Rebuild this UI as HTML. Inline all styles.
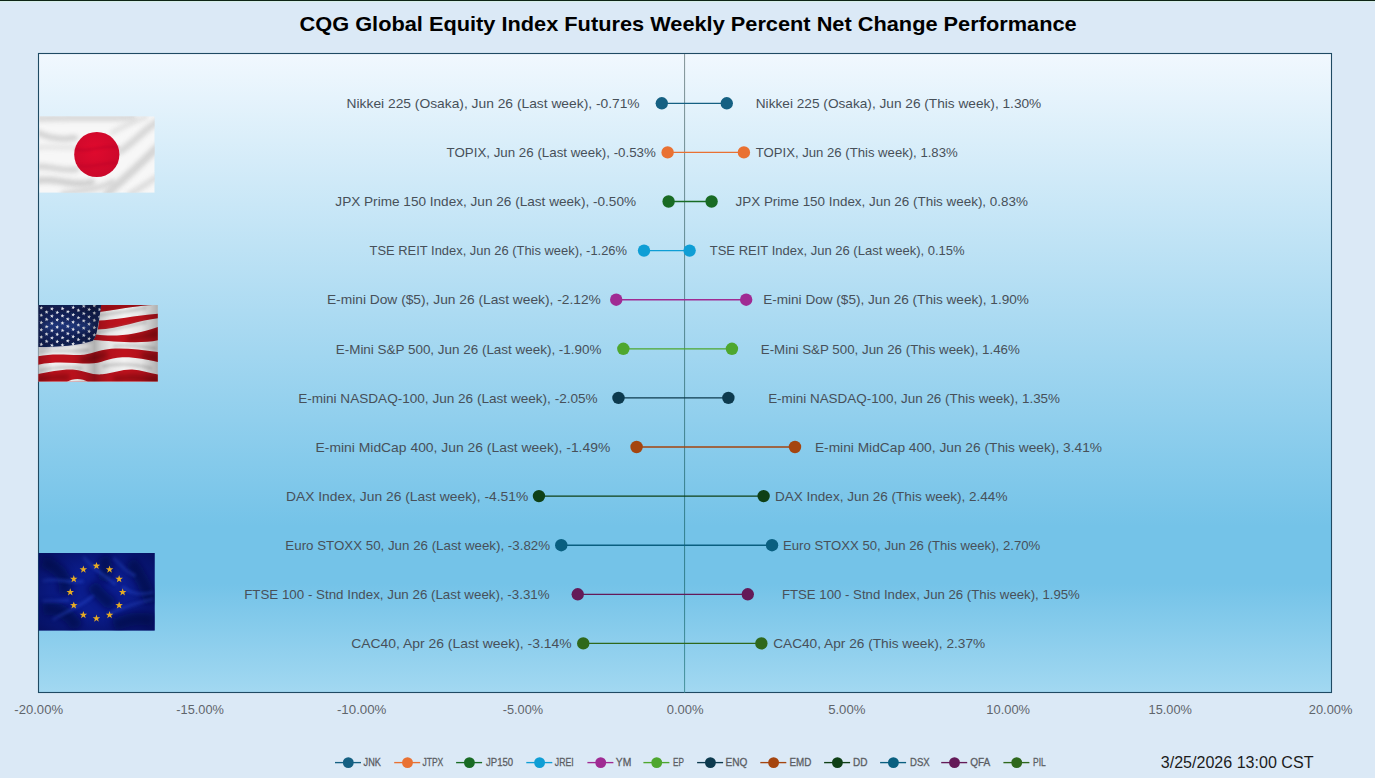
<!DOCTYPE html>
<html lang="en"><head><meta charset="utf-8"><title>CQG Global Equity Index Futures Weekly Percent Net Change Performance</title>
<style>
html,body{margin:0;padding:0;background:#dbe9f6;}
body{width:1375px;height:778px;overflow:hidden;}
svg{display:block;}
text{font-family:"Liberation Sans",sans-serif;}
.dl{font-size:13.33px;fill:#475059;}
.ax{font-size:12px;fill:#5f656c;}
.lg{font-size:11.1px;fill:#5a5d63;stroke:#5a5d63;stroke-width:0.3px;}
.ttl{font-size:20.4px;font-weight:bold;fill:#000;}
.dt{font-size:16px;fill:#1c1c1c;}
</style></head><body>
<svg width="1375" height="778" viewBox="0 0 1375 778">
<defs>
<linearGradient id="pg" x1="0" y1="0" x2="0" y2="1">
<stop offset="0" stop-color="#f1f8fe"/><stop offset="0.74" stop-color="#74c3e8"/><stop offset="0.83" stop-color="#74c3e8"/><stop offset="1" stop-color="#a2d8f1"/>
</linearGradient>
<linearGradient id="zl" x1="0" y1="0" x2="0" y2="1">
<stop offset="0" stop-color="#8a9a9e"/><stop offset="0.74" stop-color="#378494"/><stop offset="0.83" stop-color="#378494"/><stop offset="1" stop-color="#4f98a4"/>
</linearGradient>
</defs>
<rect x="0" y="0" width="1375" height="778" fill="#dbe9f6"/>
<rect x="0" y="0" width="1375" height="1" fill="#0e2416"/><rect x="0" y="1" width="1375" height="1" fill="#d7efe9"/>
<rect x="38.5" y="53.5" width="1293" height="639" fill="url(#pg)" stroke="#1f4a63" stroke-width="1.1"/>
<defs>
<filter id="b2" filterUnits="userSpaceOnUse" x="-200" y="-200" width="1800" height="1300"><feGaussianBlur stdDeviation="2.2"/></filter>
<filter id="b1" filterUnits="userSpaceOnUse" x="-200" y="-200" width="1800" height="1300"><feGaussianBlur stdDeviation="1.2"/></filter>
<filter id="bz" filterUnits="userSpaceOnUse" x="-200" y="-200" width="1800" height="1300"><feGaussianBlur stdDeviation="14"/></filter>
<filter id="bz3" filterUnits="userSpaceOnUse" x="-200" y="-200" width="1800" height="1300"><feGaussianBlur stdDeviation="34"/></filter>
<filter id="bz2" filterUnits="userSpaceOnUse" x="-200" y="-200" width="1800" height="1300"><feGaussianBlur stdDeviation="22"/></filter>
<clipPath id="cj"><rect x="39.3" y="116.3" width="115.4" height="76.5"/></clipPath>
<clipPath id="cu"><rect x="20" y="45" width="1083" height="695"/></clipPath>
<clipPath id="ce"><rect x="22" y="45" width="1053" height="703"/></clipPath>
<linearGradient id="ush" x1="0" y1="0" x2="1" y2="0">
<stop offset="0" stop-color="#000" stop-opacity="0.18"/><stop offset="0.12" stop-color="#000" stop-opacity="0"/>
<stop offset="0.28" stop-color="#000" stop-opacity="0.02"/><stop offset="0.4" stop-color="#000" stop-opacity="0.14"/><stop offset="0.47" stop-color="#000" stop-opacity="0.27"/>
<stop offset="0.53" stop-color="#000" stop-opacity="0.14"/><stop offset="0.6" stop-color="#000" stop-opacity="0.05"/><stop offset="0.72" stop-color="#000" stop-opacity="0"/>
<stop offset="0.86" stop-color="#000" stop-opacity="0.06"/><stop offset="1" stop-color="#000" stop-opacity="0.28"/>
</linearGradient>
<radialGradient id="ev" cx="0.5" cy="0.5" r="0.75"><stop offset="0.35" stop-color="#02063c" stop-opacity="0"/><stop offset="1" stop-color="#02063c" stop-opacity="0.62"/></radialGradient>
<radialGradient id="jr" cx="0.45" cy="0.4" r="0.7"><stop offset="0" stop-color="#e00a2e"/><stop offset="1" stop-color="#c8082a"/></radialGradient>
</defs>
<g clip-path="url(#cj)">
<rect x="39.3" y="116.3" width="115.4" height="76.5" fill="#f7f7f7"/>
<path d="M39.3,118.5 C68.6,117.2 100.7,119.1 132.8,117.2 " fill="none" stroke="#cfcfcf" stroke-width="7" opacity="0.72" filter="url(#b2)" stroke-linecap="round"/>
<path d="M37.7,132.6 C49.3,138.4 62.1,139.7 75.0,137.8 " fill="none" stroke="#c6c6c6" stroke-width="6" opacity="0.72" filter="url(#b2)" stroke-linecap="round"/>
<path d="M37.7,147.4 C49.3,146.1 62.1,148.1 73.7,147.4 " fill="none" stroke="#dcdcdc" stroke-width="5" opacity="0.64" filter="url(#b2)" stroke-linecap="round"/>
<path d="M37.7,166.7 C49.3,165.4 62.1,171.8 76.3,169.3 " fill="none" stroke="#c9c9c9" stroke-width="6" opacity="0.72" filter="url(#b2)" stroke-linecap="round"/>
<path d="M37.7,180.8 C55.7,177.0 72.4,187.3 91.7,182.1 " fill="none" stroke="#c4c4c4" stroke-width="7" opacity="0.72" filter="url(#b2)" stroke-linecap="round"/>
<path d="M63.4,193.7 C84.0,189.8 96.8,189.8 112.3,182.1 " fill="none" stroke="#cdcdcd" stroke-width="6" opacity="0.72" filter="url(#b2)" stroke-linecap="round"/>
<path d="M107.1,193.7 C126.4,177.0 139.3,165.4 157.2,147.4 " fill="none" stroke="#c8c8c8" stroke-width="8" opacity="0.72" filter="url(#b2)" stroke-linecap="round"/>
<path d="M120.0,151.3 C132.8,143.6 143.1,130.7 157.2,121.7 " fill="none" stroke="#cccccc" stroke-width="7" opacity="0.72" filter="url(#b2)" stroke-linecap="round"/>
<path d="M112.3,132.6 C122.5,126.9 132.8,121.7 145.7,117.2 " fill="none" stroke="#d6d6d6" stroke-width="5" opacity="0.64" filter="url(#b2)" stroke-linecap="round"/>
<path d="M130.3,193.7 C140.5,188.5 148.3,182.1 157.2,177.0 " fill="none" stroke="#cfcfcf" stroke-width="6" opacity="0.64" filter="url(#b2)" stroke-linecap="round"/>
<circle cx="96.8" cy="154.5" r="22.6" fill="url(#jr)"/>
<path d="M75.0,148.7 C87.8,153.8 102.0,143.6 118.7,147.4 " fill="none" stroke="#b40626" stroke-width="3" opacity="0.35" filter="url(#b1)"/>
<path d="M78.8,165.4 C91.7,169.3 104.6,161.6 117.4,162.8 " fill="none" stroke="#b40626" stroke-width="3" opacity="0.3" filter="url(#b1)"/>
</g>
<g transform="translate(36,300) scale(0.110522)"><g clip-path="url(#cu)">
<rect x="20" y="45" width="1083" height="695" fill="#f3f3f3"/>
<path d="M585,45 L1060,45 C950,50 800,75 575,108 Z" fill="#bf121d"/>
<path d="M570,185 C700,185 900,140 1103,125 L1103,165 C950,180 750,260 560,268 Z" fill="#bf121d"/>
<path d="M545,312 C700,335 900,320 1103,245 L1103,365 C950,400 700,375 520,362 Z" fill="#bf121d"/>
<path d="M20,510 C150,480 300,500 400,498 C500,495 550,455 680,442 C800,432 950,450 1103,470 L1103,560 C1000,540 900,515 780,518 C650,522 600,575 480,575 C350,575 200,548 20,585 Z" fill="#bf121d"/>
<path d="M20,670 C120,650 250,622 350,630 C450,640 500,680 600,672 C700,660 780,625 870,628 C950,632 1030,660 1103,675 L1103,740 L20,740 Z" fill="#bf121d"/>
<clipPath id="cr"><path d="M585,45 L1060,45 C950,50 800,75 575,108 Z"/><path d="M570,185 C700,185 900,140 1103,125 L1103,165 C950,180 750,260 560,268 Z"/><path d="M545,312 C700,335 900,320 1103,245 L1103,365 C950,400 700,375 520,362 Z"/><path d="M20,510 C150,480 300,500 400,498 C500,495 550,455 680,442 C800,432 950,450 1103,470 L1103,560 C1000,540 900,515 780,518 C650,522 600,575 480,575 C350,575 200,548 20,585 Z"/><path d="M20,670 C120,650 250,622 350,630 C450,640 500,680 600,672 C700,660 780,625 870,628 C950,632 1030,660 1103,675 L1103,740 L20,740 Z"/></clipPath><g clip-path="url(#cr)">
<path d="M600,75 C750,62 900,50 1050,46" fill="none" stroke="#4a0006" stroke-width="50" opacity="0.4" filter="url(#bz2)"/>
<path d="M820,350 C920,345 1030,320 1103,300" fill="none" stroke="#4a0006" stroke-width="50" opacity="0.4" filter="url(#bz2)"/>
<path d="M400,540 C480,545 560,520 640,490" fill="none" stroke="#4a0006" stroke-width="50" opacity="0.4" filter="url(#bz2)"/>
<path d="M700,715 C850,690 980,700 1103,725" fill="none" stroke="#4a0006" stroke-width="50" opacity="0.4" filter="url(#bz2)"/>
<path d="M20,720 C100,700 200,690 300,700" fill="none" stroke="#4a0006" stroke-width="50" opacity="0.4" filter="url(#bz2)"/>
<path d="M950,500 C1000,505 1060,520 1103,530" fill="none" stroke="#4a0006" stroke-width="50" opacity="0.4" filter="url(#bz2)"/>
</g>
<path d="M280,740 C330,705 420,705 470,740 Z" fill="#f0f0f0"/>
<path d="M560,140 C700,120 850,100 1000,70" fill="none" stroke="#8c8c8c" stroke-width="26" opacity="0.38" filter="url(#bz)"/>
<path d="M560,290 C700,270 850,230 1000,200" fill="none" stroke="#8c8c8c" stroke-width="26" opacity="0.38" filter="url(#bz)"/>
<path d="M30,470 C200,450 350,470 480,455" fill="none" stroke="#8c8c8c" stroke-width="26" opacity="0.38" filter="url(#bz)"/>
<path d="M600,600 C750,570 900,580 1050,620" fill="none" stroke="#8c8c8c" stroke-width="26" opacity="0.38" filter="url(#bz)"/>
<path d="M30,640 C150,610 300,600 420,620" fill="none" stroke="#8c8c8c" stroke-width="26" opacity="0.38" filter="url(#bz)"/>
<path d="M700,420 C850,400 950,420 1090,440" fill="none" stroke="#8c8c8c" stroke-width="26" opacity="0.38" filter="url(#bz)"/>
<path d="M20,45 L590,45 C580,120 570,200 550,290 C540,330 530,350 515,368 C400,410 200,425 20,425 Z" fill="#15245c"/>
<path d="M60,250 C200,200 350,260 520,230" fill="none" stroke="#2a4a9a" stroke-width="70" opacity="0.55" filter="url(#bz2)"/>
<path d="M40,80 C200,60 350,120 560,60" fill="none" stroke="#0a1238" stroke-width="50" opacity="0.6" filter="url(#bz2)"/>
<path d="M40,400 C200,390 350,370 500,340" fill="none" stroke="#0a1238" stroke-width="40" opacity="0.6" filter="url(#bz2)"/>
<clipPath id="cc"><path d="M20,45 L590,45 C580,120 570,200 550,290 C540,330 530,350 515,368 C400,410 200,425 20,425 Z"/></clipPath><g clip-path="url(#cc)" fill="#e4e6ee">
<polygon points="51.3,53.2 53.8,66.4 66.8,69.3 55.1,75.7 56.3,89.0 46.6,79.8 34.3,85.1 40.1,73.0 31.2,63.0 44.5,64.7"/>
<polygon points="147.3,60.8 149.8,74.0 162.8,76.9 151.1,83.3 152.3,96.6 142.6,87.4 130.3,92.7 136.1,80.6 127.2,70.6 140.5,72.3"/>
<polygon points="243.3,58.8 245.8,71.9 258.8,74.8 247.1,81.2 248.3,94.5 238.6,85.3 226.3,90.7 232.1,78.6 223.2,68.5 236.5,70.3"/>
<polygon points="339.3,48.5 341.8,61.7 354.8,64.6 343.1,71.0 344.3,84.3 334.6,75.1 322.3,80.4 328.1,68.3 319.2,58.3 332.5,60.0"/>
<polygon points="435.3,37.4 437.8,50.5 450.8,53.5 439.1,59.9 440.3,73.2 430.6,64.0 418.3,69.3 424.1,57.2 415.2,47.2 428.5,48.9"/>
<polygon points="531.3,33.3 533.8,46.5 546.8,49.4 535.1,55.8 536.3,69.1 526.6,59.9 514.3,65.3 520.1,53.2 511.2,43.1 524.5,44.9"/>
<polygon points="99.3,91.0 101.8,104.2 114.8,107.1 103.1,113.5 104.3,126.8 94.6,117.6 82.3,122.9 88.1,110.8 79.2,100.8 92.5,102.5"/>
<polygon points="195.3,94.1 197.8,107.2 210.8,110.1 199.1,116.5 200.3,129.9 190.6,120.7 178.3,126.0 184.1,113.9 175.2,103.9 188.5,105.6"/>
<polygon points="291.3,87.3 293.8,100.4 306.8,103.4 295.1,109.8 296.3,123.1 286.6,113.9 274.3,119.2 280.1,107.1 271.2,97.1 284.5,98.8"/>
<polygon points="387.3,75.5 389.8,88.7 402.8,91.6 391.1,98.0 392.3,111.3 382.6,102.1 370.3,107.4 376.1,95.3 367.2,85.3 380.5,87.0"/>
<polygon points="483.3,67.1 485.8,80.3 498.8,83.2 487.1,89.6 488.3,102.9 478.6,93.7 466.3,99.0 472.1,87.0 463.2,76.9 476.5,78.7"/>
<polygon points="579.3,68.2 581.8,81.3 594.8,84.2 583.1,90.6 584.3,104.0 574.6,94.8 562.3,100.1 568.1,88.0 559.2,78.0 572.5,79.7"/>
<polygon points="51.3,119.2 53.8,132.4 66.8,135.3 55.1,141.7 56.3,155.0 46.6,145.8 34.3,151.1 40.1,139.0 31.2,129.0 44.5,130.7"/>
<polygon points="147.3,126.8 149.8,140.0 162.8,142.9 151.1,149.3 152.3,162.6 142.6,153.4 130.3,158.7 136.1,146.6 127.2,136.6 140.5,138.3"/>
<polygon points="243.3,124.8 245.8,137.9 258.8,140.8 247.1,147.2 248.3,160.5 238.6,151.3 226.3,156.7 232.1,144.6 223.2,134.5 236.5,136.3"/>
<polygon points="339.3,114.5 341.8,127.7 354.8,130.6 343.1,137.0 344.3,150.3 334.6,141.1 322.3,146.4 328.1,134.3 319.2,124.3 332.5,126.0"/>
<polygon points="435.3,103.4 437.8,116.5 450.8,119.5 439.1,125.9 440.3,139.2 430.6,130.0 418.3,135.3 424.1,123.2 415.2,113.2 428.5,114.9"/>
<polygon points="531.3,99.3 533.8,112.5 546.8,115.4 535.1,121.8 536.3,135.1 526.6,125.9 514.3,131.3 520.1,119.2 511.2,109.1 524.5,110.9"/>
<polygon points="99.3,157.0 101.8,170.2 114.8,173.1 103.1,179.5 104.3,192.8 94.6,183.6 82.3,188.9 88.1,176.8 79.2,166.8 92.5,168.5"/>
<polygon points="195.3,160.1 197.8,173.2 210.8,176.1 199.1,182.5 200.3,195.9 190.6,186.7 178.3,192.0 184.1,179.9 175.2,169.9 188.5,171.6"/>
<polygon points="291.3,153.3 293.8,166.4 306.8,169.4 295.1,175.8 296.3,189.1 286.6,179.9 274.3,185.2 280.1,173.1 271.2,163.1 284.5,164.8"/>
<polygon points="387.3,141.5 389.8,154.7 402.8,157.6 391.1,164.0 392.3,177.3 382.6,168.1 370.3,173.4 376.1,161.3 367.2,151.3 380.5,153.0"/>
<polygon points="483.3,133.1 485.8,146.3 498.8,149.2 487.1,155.6 488.3,168.9 478.6,159.7 466.3,165.0 472.1,153.0 463.2,142.9 476.5,144.7"/>
<polygon points="579.3,134.2 581.8,147.3 594.8,150.2 583.1,156.6 584.3,170.0 574.6,160.8 562.3,166.1 568.1,154.0 559.2,144.0 572.5,145.7"/>
<polygon points="51.3,185.2 53.8,198.4 66.8,201.3 55.1,207.7 56.3,221.0 46.6,211.8 34.3,217.1 40.1,205.0 31.2,195.0 44.5,196.7"/>
<polygon points="147.3,192.8 149.8,206.0 162.8,208.9 151.1,215.3 152.3,228.6 142.6,219.4 130.3,224.7 136.1,212.6 127.2,202.6 140.5,204.3"/>
<polygon points="243.3,190.8 245.8,203.9 258.8,206.8 247.1,213.2 248.3,226.5 238.6,217.3 226.3,222.7 232.1,210.6 223.2,200.5 236.5,202.3"/>
<polygon points="339.3,180.5 341.8,193.7 354.8,196.6 343.1,203.0 344.3,216.3 334.6,207.1 322.3,212.4 328.1,200.3 319.2,190.3 332.5,192.0"/>
<polygon points="435.3,169.4 437.8,182.5 450.8,185.5 439.1,191.9 440.3,205.2 430.6,196.0 418.3,201.3 424.1,189.2 415.2,179.2 428.5,180.9"/>
<polygon points="531.3,165.3 533.8,178.5 546.8,181.4 535.1,187.8 536.3,201.1 526.6,191.9 514.3,197.3 520.1,185.2 511.2,175.1 524.5,176.9"/>
<polygon points="99.3,223.0 101.8,236.2 114.8,239.1 103.1,245.5 104.3,258.8 94.6,249.6 82.3,254.9 88.1,242.8 79.2,232.8 92.5,234.5"/>
<polygon points="195.3,226.1 197.8,239.2 210.8,242.1 199.1,248.5 200.3,261.9 190.6,252.7 178.3,258.0 184.1,245.9 175.2,235.9 188.5,237.6"/>
<polygon points="291.3,219.3 293.8,232.4 306.8,235.4 295.1,241.8 296.3,255.1 286.6,245.9 274.3,251.2 280.1,239.1 271.2,229.1 284.5,230.8"/>
<polygon points="387.3,207.5 389.8,220.7 402.8,223.6 391.1,230.0 392.3,243.3 382.6,234.1 370.3,239.4 376.1,227.3 367.2,217.3 380.5,219.0"/>
<polygon points="483.3,199.1 485.8,212.3 498.8,215.2 487.1,221.6 488.3,234.9 478.6,225.7 466.3,231.0 472.1,219.0 463.2,208.9 476.5,210.7"/>
<polygon points="579.3,200.2 581.8,213.3 594.8,216.2 583.1,222.6 584.3,236.0 574.6,226.8 562.3,232.1 568.1,220.0 559.2,210.0 572.5,211.7"/>
<polygon points="51.3,251.2 53.8,264.4 66.8,267.3 55.1,273.7 56.3,287.0 46.6,277.8 34.3,283.1 40.1,271.0 31.2,261.0 44.5,262.7"/>
<polygon points="147.3,258.8 149.8,272.0 162.8,274.9 151.1,281.3 152.3,294.6 142.6,285.4 130.3,290.7 136.1,278.6 127.2,268.6 140.5,270.3"/>
<polygon points="243.3,256.8 245.8,269.9 258.8,272.8 247.1,279.2 248.3,292.5 238.6,283.3 226.3,288.7 232.1,276.6 223.2,266.5 236.5,268.3"/>
<polygon points="339.3,246.5 341.8,259.7 354.8,262.6 343.1,269.0 344.3,282.3 334.6,273.1 322.3,278.4 328.1,266.3 319.2,256.3 332.5,258.0"/>
<polygon points="435.3,235.4 437.8,248.5 450.8,251.5 439.1,257.9 440.3,271.2 430.6,262.0 418.3,267.3 424.1,255.2 415.2,245.2 428.5,246.9"/>
<polygon points="531.3,231.3 533.8,244.5 546.8,247.4 535.1,253.8 536.3,267.1 526.6,257.9 514.3,263.3 520.1,251.2 511.2,241.1 524.5,242.9"/>
<polygon points="99.3,289.0 101.8,302.2 114.8,305.1 103.1,311.5 104.3,324.8 94.6,315.6 82.3,320.9 88.1,308.8 79.2,298.8 92.5,300.5"/>
<polygon points="195.3,292.1 197.8,305.2 210.8,308.1 199.1,314.5 200.3,327.9 190.6,318.7 178.3,324.0 184.1,311.9 175.2,301.9 188.5,303.6"/>
<polygon points="291.3,285.3 293.8,298.4 306.8,301.4 295.1,307.8 296.3,321.1 286.6,311.9 274.3,317.2 280.1,305.1 271.2,295.1 284.5,296.8"/>
<polygon points="387.3,273.5 389.8,286.7 402.8,289.6 391.1,296.0 392.3,309.3 382.6,300.1 370.3,305.4 376.1,293.3 367.2,283.3 380.5,285.0"/>
<polygon points="483.3,265.1 485.8,278.3 498.8,281.2 487.1,287.6 488.3,300.9 478.6,291.7 466.3,297.0 472.1,285.0 463.2,274.9 476.5,276.7"/>
<polygon points="579.3,266.2 581.8,279.3 594.8,282.2 583.1,288.6 584.3,302.0 574.6,292.8 562.3,298.1 568.1,286.0 559.2,276.0 572.5,277.7"/>
<polygon points="51.3,317.2 53.8,330.4 66.8,333.3 55.1,339.7 56.3,353.0 46.6,343.8 34.3,349.1 40.1,337.0 31.2,327.0 44.5,328.7"/>
<polygon points="147.3,324.8 149.8,338.0 162.8,340.9 151.1,347.3 152.3,360.6 142.6,351.4 130.3,356.7 136.1,344.6 127.2,334.6 140.5,336.3"/>
<polygon points="243.3,322.8 245.8,335.9 258.8,338.8 247.1,345.2 248.3,358.5 238.6,349.3 226.3,354.7 232.1,342.6 223.2,332.5 236.5,334.3"/>
<polygon points="339.3,312.5 341.8,325.7 354.8,328.6 343.1,335.0 344.3,348.3 334.6,339.1 322.3,344.4 328.1,332.3 319.2,322.3 332.5,324.0"/>
<polygon points="435.3,301.4 437.8,314.5 450.8,317.5 439.1,323.9 440.3,337.2 430.6,328.0 418.3,333.3 424.1,321.2 415.2,311.2 428.5,312.9"/>
<polygon points="531.3,297.3 533.8,310.5 546.8,313.4 535.1,319.8 536.3,333.1 526.6,323.9 514.3,329.3 520.1,317.2 511.2,307.1 524.5,308.9"/>
<polygon points="99.3,355.0 101.8,368.2 114.8,371.1 103.1,377.5 104.3,390.8 94.6,381.6 82.3,386.9 88.1,374.8 79.2,364.8 92.5,366.5"/>
<polygon points="195.3,358.1 197.8,371.2 210.8,374.1 199.1,380.5 200.3,393.9 190.6,384.7 178.3,390.0 184.1,377.9 175.2,367.9 188.5,369.6"/>
<polygon points="291.3,351.3 293.8,364.4 306.8,367.4 295.1,373.8 296.3,387.1 286.6,377.9 274.3,383.2 280.1,371.1 271.2,361.1 284.5,362.8"/>
<polygon points="387.3,339.5 389.8,352.7 402.8,355.6 391.1,362.0 392.3,375.3 382.6,366.1 370.3,371.4 376.1,359.3 367.2,349.3 380.5,351.0"/>
<polygon points="483.3,331.1 485.8,344.3 498.8,347.2 487.1,353.6 488.3,366.9 478.6,357.7 466.3,363.0 472.1,351.0 463.2,340.9 476.5,342.7"/>
<polygon points="579.3,332.2 581.8,345.3 594.8,348.2 583.1,354.6 584.3,368.0 574.6,358.8 562.3,364.1 568.1,352.0 559.2,342.0 572.5,343.7"/>
<polygon points="51.3,383.2 53.8,396.4 66.8,399.3 55.1,405.7 56.3,419.0 46.6,409.8 34.3,415.1 40.1,403.0 31.2,393.0 44.5,394.7"/>
<polygon points="147.3,390.8 149.8,404.0 162.8,406.9 151.1,413.3 152.3,426.6 142.6,417.4 130.3,422.7 136.1,410.6 127.2,400.6 140.5,402.3"/>
<polygon points="243.3,388.8 245.8,401.9 258.8,404.8 247.1,411.2 248.3,424.5 238.6,415.3 226.3,420.7 232.1,408.6 223.2,398.5 236.5,400.3"/>
<polygon points="339.3,378.5 341.8,391.7 354.8,394.6 343.1,401.0 344.3,414.3 334.6,405.1 322.3,410.4 328.1,398.3 319.2,388.3 332.5,390.0"/>
<polygon points="435.3,367.4 437.8,380.5 450.8,383.5 439.1,389.9 440.3,403.2 430.6,394.0 418.3,399.3 424.1,387.2 415.2,377.2 428.5,378.9"/>
<polygon points="531.3,363.3 533.8,376.5 546.8,379.4 535.1,385.8 536.3,399.1 526.6,389.9 514.3,395.3 520.1,383.2 511.2,373.1 524.5,374.9"/>
</g>
<rect x="20" y="45" width="1083" height="695" fill="url(#ush)"/>
</g></g>
<g transform="translate(36,548) scale(0.110522)"><g clip-path="url(#ce)">
<rect x="22" y="45" width="1053" height="703" fill="#0b1d8e"/>
<path d="M60,120 C200,180 300,260 250,420" fill="none" stroke="#030848" stroke-width="120" opacity="0.7" filter="url(#bz3)"/>
<path d="M850,120 C950,250 1000,350 1040,500" fill="none" stroke="#030848" stroke-width="120" opacity="0.7" filter="url(#bz3)"/>
<path d="M700,700 C850,640 950,620 1060,660" fill="none" stroke="#030848" stroke-width="120" opacity="0.7" filter="url(#bz3)"/>
<path d="M500,330 C560,400 620,470 700,520" fill="none" stroke="#030848" stroke-width="120" opacity="0.7" filter="url(#bz3)"/>
<path d="M60,560 C200,520 300,600 380,720" fill="none" stroke="#030848" stroke-width="120" opacity="0.7" filter="url(#bz3)"/>
<path d="M600,80 C650,160 640,220 600,300" fill="none" stroke="#030848" stroke-width="120" opacity="0.7" filter="url(#bz3)"/>
<path d="M430,80 C520,200 640,260 720,330" fill="none" stroke="#2242c0" stroke-width="26" opacity="0.6" filter="url(#bz)"/>
<path d="M60,300 C200,260 300,330 430,300" fill="none" stroke="#2242c0" stroke-width="26" opacity="0.6" filter="url(#bz)"/>
<path d="M150,650 C300,560 420,520 520,430" fill="none" stroke="#2242c0" stroke-width="26" opacity="0.6" filter="url(#bz)"/>
<path d="M780,350 C860,420 950,430 1060,400" fill="none" stroke="#2242c0" stroke-width="26" opacity="0.6" filter="url(#bz)"/>
<path d="M650,600 C780,540 900,500 1060,460" fill="none" stroke="#2242c0" stroke-width="26" opacity="0.6" filter="url(#bz)"/>
<path d="M60,480 C150,470 230,490 300,470" fill="none" stroke="#2242c0" stroke-width="26" opacity="0.6" filter="url(#bz)"/>
<path d="M700,90 C780,150 800,220 900,250" fill="none" stroke="#2242c0" stroke-width="26" opacity="0.6" filter="url(#bz)"/>
<rect x="22" y="45" width="1053" height="703" fill="url(#ev)"/>
<polygon points="547.0,126.0 555.5,150.3 581.2,150.9 560.8,166.5 568.2,191.1 547.0,176.5 525.8,191.1 533.2,166.5 512.8,150.9 538.5,150.3" fill="#e6ab24"/>
<polygon points="665.5,157.9 674.0,182.2 699.7,182.8 679.3,198.4 686.7,223.0 665.5,208.4 644.3,223.0 651.7,198.4 631.3,182.8 657.0,182.2" fill="#e6ab24"/>
<polygon points="752.2,245.0 760.8,269.3 786.5,269.9 766.0,285.5 773.4,310.1 752.2,295.5 731.1,310.1 738.5,285.5 718.0,269.9 743.7,269.3" fill="#e6ab24"/>
<polygon points="784.0,364.0 792.5,388.3 818.2,388.9 797.8,404.5 805.2,429.1 784.0,414.5 762.8,429.1 770.2,404.5 749.8,388.9 775.5,388.3" fill="#e6ab24"/>
<polygon points="752.2,483.0 760.8,507.3 786.5,507.9 766.0,523.5 773.4,548.1 752.2,533.5 731.1,548.1 738.5,523.5 718.0,507.9 743.7,507.3" fill="#e6ab24"/>
<polygon points="665.5,570.1 674.0,594.4 699.7,595.0 679.3,610.6 686.7,635.2 665.5,620.6 644.3,635.2 651.7,610.6 631.3,595.0 657.0,594.4" fill="#e6ab24"/>
<polygon points="547.0,602.0 555.5,626.3 581.2,626.9 560.8,642.5 568.2,667.1 547.0,652.5 525.8,667.1 533.2,642.5 512.8,626.9 538.5,626.3" fill="#e6ab24"/>
<polygon points="428.5,570.1 437.0,594.4 462.7,595.0 442.3,610.6 449.7,635.2 428.5,620.6 407.3,635.2 414.7,610.6 394.3,595.0 420.0,594.4" fill="#e6ab24"/>
<polygon points="341.8,483.0 350.3,507.3 376.0,507.9 355.5,523.5 362.9,548.1 341.8,533.5 320.6,548.1 328.0,523.5 307.5,507.9 333.2,507.3" fill="#e6ab24"/>
<polygon points="310.0,364.0 318.5,388.3 344.2,388.9 323.8,404.5 331.2,429.1 310.0,414.5 288.8,429.1 296.2,404.5 275.8,388.9 301.5,388.3" fill="#e6ab24"/>
<polygon points="341.8,245.0 350.3,269.3 376.0,269.9 355.5,285.5 362.9,310.1 341.8,295.5 320.6,310.1 328.0,285.5 307.5,269.9 333.2,269.3" fill="#e6ab24"/>
<polygon points="428.5,157.9 437.0,182.2 462.7,182.8 442.3,198.4 449.7,223.0 428.5,208.4 407.3,223.0 414.7,198.4 394.3,182.8 420.0,182.2" fill="#e6ab24"/>
</g></g>
<rect x="684" y="54" width="1.1" height="638.5" fill="url(#zl)"/>
<text class="ttl" x="299.55" y="30.7" textLength="777.10" lengthAdjust="spacingAndGlyphs">CQG Global Equity Index Futures Weekly Percent Net Change Performance</text>
<g><line x1="661.80" y1="103.30" x2="726.77" y2="103.30" stroke="#156082" stroke-width="1.35"/><circle cx="661.80" cy="103.30" r="6.2" fill="#156082"/><circle cx="726.77" cy="103.30" r="6.2" fill="#156082"/>
<text class="dl" x="346.55" y="108.05" textLength="293.10" lengthAdjust="spacingAndGlyphs">Nikkei 225 (Osaka), Jun 26 (Last week), -0.71%</text>
<text class="dl" x="755.75" y="108.05" textLength="285.50" lengthAdjust="spacingAndGlyphs">Nikkei 225 (Osaka), Jun 26 (This week), 1.30%</text></g>
<g><line x1="667.62" y1="152.40" x2="743.90" y2="152.40" stroke="#E97132" stroke-width="1.35"/><circle cx="667.62" cy="152.40" r="6.2" fill="#E97132"/><circle cx="743.90" cy="152.40" r="6.2" fill="#E97132"/>
<text class="dl" x="446.55" y="157.15" textLength="209.30" lengthAdjust="spacingAndGlyphs">TOPIX, Jun 26 (Last week), -0.53%</text>
<text class="dl" x="755.75" y="157.15" textLength="201.90" lengthAdjust="spacingAndGlyphs">TOPIX, Jun 26 (This week), 1.83%</text></g>
<g><line x1="668.59" y1="201.50" x2="711.58" y2="201.50" stroke="#196B24" stroke-width="1.35"/><circle cx="668.59" cy="201.50" r="6.2" fill="#196B24"/><circle cx="711.58" cy="201.50" r="6.2" fill="#196B24"/>
<text class="dl" x="335.35" y="206.25" textLength="300.70" lengthAdjust="spacingAndGlyphs">JPX Prime 150 Index, Jun 26 (Last week), -0.50%</text>
<text class="dl" x="735.55" y="206.25" textLength="292.30" lengthAdjust="spacingAndGlyphs">JPX Prime 150 Index, Jun 26 (This week), 0.83%</text></g>
<g><line x1="644.02" y1="250.60" x2="689.60" y2="250.60" stroke="#0F9ED5" stroke-width="1.35"/><circle cx="644.02" cy="250.60" r="6.2" fill="#0F9ED5"/><circle cx="689.60" cy="250.60" r="6.2" fill="#0F9ED5"/>
<text class="dl" x="369.55" y="255.35" textLength="257.50" lengthAdjust="spacingAndGlyphs">TSE REIT Index, Jun 26 (This week), -1.26%</text>
<text class="dl" x="709.75" y="255.35" textLength="254.90" lengthAdjust="spacingAndGlyphs">TSE REIT Index, Jun 26 (Last week), 0.15%</text></g>
<g><line x1="616.22" y1="299.70" x2="746.17" y2="299.70" stroke="#A02B93" stroke-width="1.35"/><circle cx="616.22" cy="299.70" r="6.2" fill="#A02B93"/><circle cx="746.17" cy="299.70" r="6.2" fill="#A02B93"/>
<text class="dl" x="326.95" y="304.45" textLength="273.90" lengthAdjust="spacingAndGlyphs">E-mini Dow ($5), Jun 26 (Last week), -2.12%</text>
<text class="dl" x="763.15" y="304.45" textLength="265.70" lengthAdjust="spacingAndGlyphs">E-mini Dow ($5), Jun 26 (This week), 1.90%</text></g>
<g><line x1="623.33" y1="348.80" x2="731.94" y2="348.80" stroke="#4EA72E" stroke-width="1.35"/><circle cx="623.33" cy="348.80" r="6.2" fill="#4EA72E"/><circle cx="731.94" cy="348.80" r="6.2" fill="#4EA72E"/>
<text class="dl" x="335.75" y="353.55" textLength="265.70" lengthAdjust="spacingAndGlyphs">E-Mini S&amp;P 500, Jun 26 (Last week), -1.90%</text>
<text class="dl" x="760.75" y="353.55" textLength="259.10" lengthAdjust="spacingAndGlyphs">E-Mini S&amp;P 500, Jun 26 (This week), 1.46%</text></g>
<g><line x1="618.48" y1="397.90" x2="728.39" y2="397.90" stroke="#0D3A4E" stroke-width="1.35"/><circle cx="618.48" cy="397.90" r="6.2" fill="#0D3A4E"/><circle cx="728.39" cy="397.90" r="6.2" fill="#0D3A4E"/>
<text class="dl" x="298.15" y="402.65" textLength="299.50" lengthAdjust="spacingAndGlyphs">E-mini NASDAQ-100, Jun 26 (Last week), -2.05%</text>
<text class="dl" x="768.15" y="402.65" textLength="291.90" lengthAdjust="spacingAndGlyphs">E-mini NASDAQ-100, Jun 26 (This week), 1.35%</text></g>
<g><line x1="636.59" y1="447.00" x2="794.98" y2="447.00" stroke="#A5450F" stroke-width="1.35"/><circle cx="636.59" cy="447.00" r="6.2" fill="#A5450F"/><circle cx="794.98" cy="447.00" r="6.2" fill="#A5450F"/>
<text class="dl" x="315.55" y="451.75" textLength="294.70" lengthAdjust="spacingAndGlyphs">E-mini MidCap 400, Jun 26 (Last week), -1.49%</text>
<text class="dl" x="814.95" y="451.75" textLength="287.10" lengthAdjust="spacingAndGlyphs">E-mini MidCap 400, Jun 26 (This week), 3.41%</text></g>
<g><line x1="538.96" y1="496.10" x2="763.62" y2="496.10" stroke="#0F4016" stroke-width="1.35"/><circle cx="538.96" cy="496.10" r="6.2" fill="#0F4016"/><circle cx="763.62" cy="496.10" r="6.2" fill="#0F4016"/>
<text class="dl" x="285.95" y="500.85" textLength="242.31" lengthAdjust="spacingAndGlyphs">DAX Index, Jun 26 (Last week), -4.51%</text>
<text class="dl" x="774.95" y="500.85" textLength="232.50" lengthAdjust="spacingAndGlyphs">DAX Index, Jun 26 (This week), 2.44%</text></g>
<g><line x1="561.27" y1="545.20" x2="772.03" y2="545.20" stroke="#095F80" stroke-width="1.35"/><circle cx="561.27" cy="545.20" r="6.2" fill="#095F80"/><circle cx="772.03" cy="545.20" r="6.2" fill="#095F80"/>
<text class="dl" x="285.35" y="549.95" textLength="264.70" lengthAdjust="spacingAndGlyphs">Euro STOXX 50, Jun 26 (Last week), -3.82%</text>
<text class="dl" x="782.95" y="549.95" textLength="257.30" lengthAdjust="spacingAndGlyphs">Euro STOXX 50, Jun 26 (This week), 2.70%</text></g>
<g><line x1="577.75" y1="594.30" x2="747.78" y2="594.30" stroke="#641A58" stroke-width="1.35"/><circle cx="577.75" cy="594.30" r="6.2" fill="#641A58"/><circle cx="747.78" cy="594.30" r="6.2" fill="#641A58"/>
<text class="dl" x="244.15" y="599.05" textLength="305.50" lengthAdjust="spacingAndGlyphs">FTSE 100 - Stnd Index, Jun 26 (Last week), -3.31%</text>
<text class="dl" x="781.95" y="599.05" textLength="297.90" lengthAdjust="spacingAndGlyphs">FTSE 100 - Stnd Index, Jun 26 (This week), 1.95%</text></g>
<g><line x1="583.25" y1="643.40" x2="761.36" y2="643.40" stroke="#2F681C" stroke-width="1.35"/><circle cx="583.25" cy="643.40" r="6.2" fill="#2F681C"/><circle cx="761.36" cy="643.40" r="6.2" fill="#2F681C"/>
<text class="dl" x="351.15" y="648.15" textLength="220.50" lengthAdjust="spacingAndGlyphs">CAC40, Apr 26 (Last week), -3.14%</text>
<text class="dl" x="773.15" y="648.15" textLength="212.10" lengthAdjust="spacingAndGlyphs">CAC40, Apr 26 (This week), 2.37%</text></g>
<text class="ax" x="14.35" y="714.1" textLength="48.70" lengthAdjust="spacingAndGlyphs">-20.00%</text>
<text class="ax" x="176.35" y="714.1" textLength="47.50" lengthAdjust="spacingAndGlyphs">-15.00%</text>
<text class="ax" x="336.95" y="714.1" textLength="49.51" lengthAdjust="spacingAndGlyphs">-10.00%</text>
<text class="ax" x="502.75" y="714.1" textLength="40.30" lengthAdjust="spacingAndGlyphs">-5.00%</text>
<text class="ax" x="666.75" y="714.1" textLength="36.90" lengthAdjust="spacingAndGlyphs">0.00%</text>
<text class="ax" x="828.15" y="714.1" textLength="37.31" lengthAdjust="spacingAndGlyphs">5.00%</text>
<text class="ax" x="986.35" y="714.1" textLength="43.74" lengthAdjust="spacingAndGlyphs">10.00%</text>
<text class="ax" x="1148.55" y="714.1" textLength="43.31" lengthAdjust="spacingAndGlyphs">15.00%</text>
<text class="ax" x="1308.75" y="714.1" textLength="43.70" lengthAdjust="spacingAndGlyphs">20.00%</text>
<g><line x1="335.00" y1="762.6" x2="361.00" y2="762.6" stroke="#156082" stroke-width="1.35"/><circle cx="348.30" cy="762.6" r="5.45" fill="#156082"/>
<text class="lg" x="363.60" y="765.8" textLength="17.29" lengthAdjust="spacingAndGlyphs">JNK</text></g>
<g><line x1="394.20" y1="762.6" x2="420.20" y2="762.6" stroke="#E97132" stroke-width="1.35"/><circle cx="407.50" cy="762.6" r="5.45" fill="#E97132"/>
<text class="lg" x="422.40" y="765.8" textLength="20.90" lengthAdjust="spacingAndGlyphs">JTPX</text></g>
<g><line x1="456.10" y1="762.6" x2="482.10" y2="762.6" stroke="#196B24" stroke-width="1.35"/><circle cx="469.40" cy="762.6" r="5.45" fill="#196B24"/>
<text class="lg" x="486.00" y="765.8" textLength="27.10" lengthAdjust="spacingAndGlyphs">JP150</text></g>
<g><line x1="526.30" y1="762.6" x2="552.30" y2="762.6" stroke="#0F9ED5" stroke-width="1.35"/><circle cx="539.60" cy="762.6" r="5.45" fill="#0F9ED5"/>
<text class="lg" x="554.80" y="765.8" textLength="18.93" lengthAdjust="spacingAndGlyphs">JREI</text></g>
<g><line x1="587.40" y1="762.6" x2="613.40" y2="762.6" stroke="#A02B93" stroke-width="1.35"/><circle cx="600.70" cy="762.6" r="5.45" fill="#A02B93"/>
<text class="lg" x="615.80" y="765.8" textLength="15.52" lengthAdjust="spacingAndGlyphs">YM</text></g>
<g><line x1="643.40" y1="762.6" x2="669.40" y2="762.6" stroke="#4EA72E" stroke-width="1.35"/><circle cx="656.70" cy="762.6" r="5.45" fill="#4EA72E"/>
<text class="lg" x="673.00" y="765.8" textLength="10.89" lengthAdjust="spacingAndGlyphs">EP</text></g>
<g><line x1="697.10" y1="762.6" x2="723.10" y2="762.6" stroke="#0D3A4E" stroke-width="1.35"/><circle cx="710.40" cy="762.6" r="5.45" fill="#0D3A4E"/>
<text class="lg" x="725.40" y="765.8" textLength="21.90" lengthAdjust="spacingAndGlyphs">ENQ</text></g>
<g><line x1="760.30" y1="762.6" x2="786.30" y2="762.6" stroke="#A5450F" stroke-width="1.35"/><circle cx="773.60" cy="762.6" r="5.45" fill="#A5450F"/>
<text class="lg" x="789.40" y="765.8" textLength="21.90" lengthAdjust="spacingAndGlyphs">EMD</text></g>
<g><line x1="824.10" y1="762.6" x2="850.10" y2="762.6" stroke="#0F4016" stroke-width="1.35"/><circle cx="837.40" cy="762.6" r="5.45" fill="#0F4016"/>
<text class="lg" x="853.00" y="765.8" textLength="14.49" lengthAdjust="spacingAndGlyphs">DD</text></g>
<g><line x1="880.10" y1="762.6" x2="906.10" y2="762.6" stroke="#095F80" stroke-width="1.35"/><circle cx="893.40" cy="762.6" r="5.45" fill="#095F80"/>
<text class="lg" x="910.00" y="765.8" textLength="19.70" lengthAdjust="spacingAndGlyphs">DSX</text></g>
<g><line x1="941.20" y1="762.6" x2="967.20" y2="762.6" stroke="#641A58" stroke-width="1.35"/><circle cx="954.50" cy="762.6" r="5.45" fill="#641A58"/>
<text class="lg" x="970.20" y="765.8" textLength="20.09" lengthAdjust="spacingAndGlyphs">QFA</text></g>
<g><line x1="1003.40" y1="762.6" x2="1029.40" y2="762.6" stroke="#2F681C" stroke-width="1.35"/><circle cx="1016.70" cy="762.6" r="5.45" fill="#2F681C"/>
<text class="lg" x="1033.00" y="765.8" textLength="12.70" lengthAdjust="spacingAndGlyphs">PIL</text></g>
<text class="dt" x="1160.75" y="767.5" textLength="152.70" lengthAdjust="spacingAndGlyphs">3/25/2026 13:00 CST</text>
</svg></body></html>
